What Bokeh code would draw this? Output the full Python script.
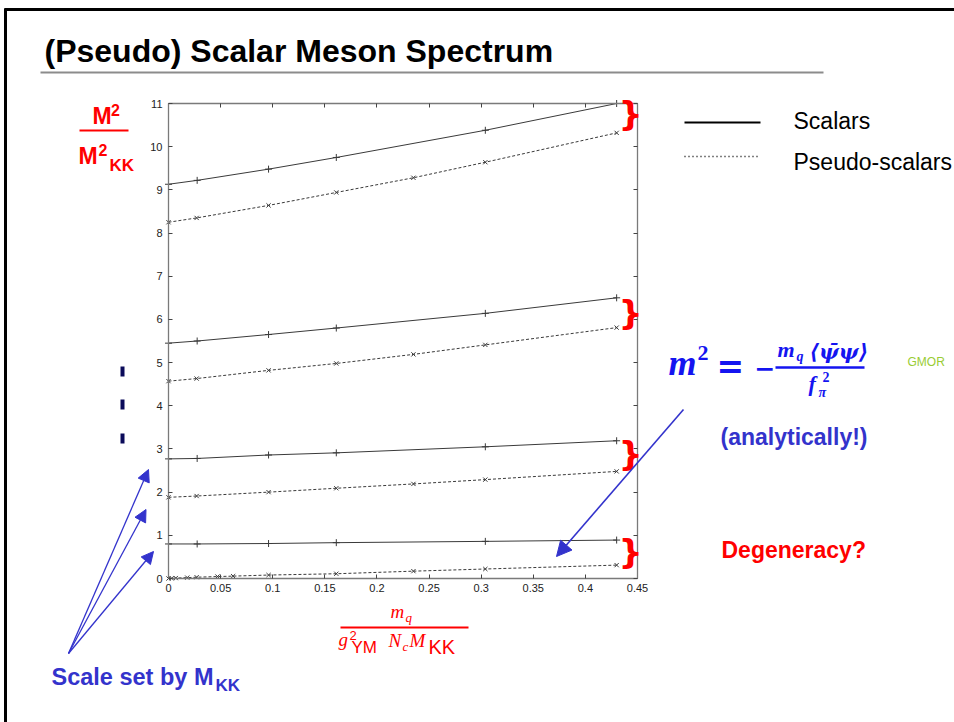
from bokeh.plotting import figure
from bokeh.models import Range1d, LinearAxis, FixedTicker, Label, Arrow, NormalHead, PolyAnnotation
from bokeh.embed import file_html
from bokeh.resources import INLINE

# ---------------- data ----------------
x_main = [0.0, 0.0275, 0.096, 0.161, 0.304, 0.43]
x_pseudo = [0.0, 0.027, 0.096, 0.161, 0.235, 0.304, 0.43]
x_pion = [0.0, 0.003, 0.007, 0.018, 0.027, 0.047, 0.062, 0.096, 0.161, 0.235, 0.304, 0.43]

scalar_1 = [0.80, 0.80, 0.81, 0.83, 0.86, 0.89]
scalar_2 = [2.77, 2.78, 2.86, 2.91, 3.05, 3.19]
scalar_3 = [5.45, 5.50, 5.65, 5.80, 6.14, 6.50]
scalar_4 = [9.13, 9.22, 9.48, 9.75, 10.38, 11.0]

pseudo_1 = [0.0, 0.005, 0.01, 0.02, 0.03, 0.045, 0.055, 0.08, 0.11, 0.17, 0.22, 0.31]
pseudo_2 = [1.88, 1.91, 2.00, 2.09, 2.19, 2.29, 2.48]
pseudo_3 = [4.57, 4.63, 4.82, 4.98, 5.19, 5.41, 5.81]
pseudo_4 = [8.25, 8.35, 8.64, 8.94, 9.28, 9.64, 10.32]

x_ticks = [0.0, 0.05, 0.1, 0.15, 0.2, 0.25, 0.3, 0.35, 0.4, 0.45]
x_tick_labels = ["0", "0.05", "0.1", "0.15", "0.2", "0.25", "0.3", "0.35", "0.4", "0.45"]
y_ticks = [0, 1, 2, 3, 4, 5, 6, 7, 8, 9, 10, 11]
y_tick_labels = [str(v) for v in y_ticks]
X_MIN, X_MAX = 0.0, 0.45
Y_MIN, Y_MAX = 0, 11

# ---------------- layout: the frame fills the whole slide ----------------
W, H = 954, 722
BOX_L, BOX_R, BOX_T, BOX_B = 168, 637, 103, 578   # page pixels of the plot box
kx = (BOX_R - BOX_L) / (X_MAX - X_MIN)
ky = (BOX_B - BOX_T) / (Y_MAX - Y_MIN)
x_range = Range1d(X_MIN - BOX_L / kx, X_MAX + (W - BOX_R) / kx)
y_range = Range1d(Y_MIN - (H - BOX_B) / ky, Y_MAX + BOX_T / ky)

p = figure(width=W, height=H, min_border=0,
           x_range=x_range, y_range=y_range,
           output_backend="svg", toolbar_location=None,
           background_fill_color="white", border_fill_color="white",
           outline_line_color=None, x_axis_location=None, y_axis_location=None)
p.xgrid.visible = False
p.ygrid.visible = False


def make_axis(ticks, labels, show, loc, bounds):
    ax = LinearAxis(fixed_location=loc, bounds=bounds)
    ax.ticker = FixedTicker(ticks=ticks)
    ax.axis_line_color = "#7a7a7a"
    ax.axis_line_width = 1.3
    ax.major_tick_line_color = "#444444"
    ax.major_tick_in = 4
    ax.major_tick_out = 0
    ax.minor_tick_line_color = None
    ax.major_label_text_font = "Liberation Sans"
    ax.major_label_text_font_size = "11px"
    ax.major_label_text_color = "#222222"
    if show:
        ax.major_label_overrides = {t: l for t, l in zip(ticks, labels)}
    else:
        ax.major_label_overrides = {t: "" for t in ticks}
    return ax


ax_b = make_axis(x_ticks, x_tick_labels, True, Y_MIN, (X_MIN, X_MAX)); ax_b.major_label_standoff = 5
ax_t = make_axis(x_ticks, x_tick_labels, False, Y_MAX, (X_MIN, X_MAX))
ax_l = make_axis(y_ticks, y_tick_labels, True, X_MIN, (Y_MIN, Y_MAX)); ax_l.major_label_standoff = 6
ax_r = make_axis(y_ticks, y_tick_labels, False, X_MAX, (Y_MIN, Y_MAX))
p.add_layout(ax_b, "below")
p.add_layout(ax_t, "above")
p.add_layout(ax_l, "left")
p.add_layout(ax_r, "right")

LINE_C = "#3a3a3a"
for ys in [scalar_1, scalar_2, scalar_3, scalar_4]:
    p.line(x_main, ys, line_color=LINE_C, line_width=1)
    p.scatter(x_main, ys, marker="cross", size=7, line_color=LINE_C, line_width=1)
for xs, ys in [(x_pion, pseudo_1), (x_pseudo, pseudo_2), (x_pseudo, pseudo_3), (x_pseudo, pseudo_4)]:
    p.line(xs, ys, line_color=LINE_C, line_width=1, line_dash="3 2")
    p.scatter(xs, ys, marker="x", size=6, line_color=LINE_C, line_width=1)


# ---------------- slide decorations (page pixel positions) ----------------
def lab(text, px, base, size, color, font="Liberation Sans", style="normal",
        align="left", center=None):
    # base = alphabetic baseline in page pixels; drawn with a middle baseline
    cy = center if center is not None else base - 0.35 * size
    p.add_layout(Label(x=px, y=H - cy, x_units="screen", y_units="screen",
                       text=text, text_font=font, text_font_size=f"{size}px",
                       text_font_style=style, text_color=color,
                       text_align=align, text_baseline="middle"))


def seg(x0, y0, x1, y1, color, width, dash="solid", join="miter"):
    p.add_layout(PolyAnnotation(xs=[x0, x1], ys=[H - y0, H - y1],
                                xs_units="screen", ys_units="screen",
                                fill_alpha=0, line_alpha=1.0, line_color=color,
                                line_width=width, line_dash=dash, line_join=join))


def arrow(x0, y0, x1, y1, color, width, size):
    p.add_layout(Arrow(x_start=x0, y_start=H - y0, x_end=x1, y_end=H - y1,
                       start_units="screen", end_units="screen",
                       end=NormalHead(size=size, fill_color=color, line_color=color, line_width=1),
                       line_color=color, line_width=width))


RED = "#ff0000"
BLUE = "#3333cc"
FB = "#1414f0"
SERIF = "Liberation Serif"

# slide frame + title
seg(4, 9, 954, 9, "black", 3)
seg(5, 8, 5, 722, "black", 3)
lab("(Pseudo) Scalar Meson Spectrum", 44, 61.5, 32, "black", style="bold")
seg(40, 72, 823, 72, "#8c8c8c", 2)

# legend
seg(684, 122, 760, 122, "black", 2.2)
seg(684, 156, 760, 156, "black", 1.5, dash="1 3")
lab("Scalars", 793, 129, 23, "black")
lab("Pseudo-scalars", 793, 170, 23, "black")

# y label
lab("M", 92, 123.5, 23, RED, style="bold")
lab("2", 110.5, 115, 16, RED, style="bold")
seg(79, 130, 128, 130, RED, 2)
lab("M", 78, 164, 23, RED, style="bold")
lab("2", 98, 155, 16, RED, style="bold")
lab("KK", 109, 171, 17, RED, style="bold")

# x label
lab("m", 390, 618, 19, RED, font=SERIF, style="italic")
lab("q", 405, 622, 13, RED, font=SERIF, style="italic")
seg(340, 627, 468, 627, RED, 2)
lab("g", 338, 646, 19, RED, font=SERIF, style="italic")
lab("2", 349, 640, 13, RED)
lab("YM", 351, 653, 17, RED)
lab("N", 388, 647, 19, RED, font=SERIF, style="italic")
lab("c", 402, 651, 13, RED, font=SERIF, style="italic")
lab("M", 409, 647, 19, RED, font=SERIF, style="italic")
lab("KK", 428, 653, 20, RED)

# braces
for cy in [113.5, 312, 453, 551]:
    lab("}", 630, None, 34, RED, font="DejaVu Sans", style="bold", align="center", center=cy)

# vertical dots
for cy in [371, 404, 438]:
    seg(122, cy - 5, 122, cy + 5, "#0b0b5a", 4, join="round")

# arrows
for ex, ey in [(148, 469), (145.5, 509), (153, 551)]:
    arrow(68, 653, ex, ey, BLUE, 1.3, 12)
arrow(683, 409, 556, 556, BLUE, 1.6, 15)

lab("Scale set by M", 51, 685, 23.5, BLUE, style="bold")
lab("KK", 215, 691, 17, BLUE, style="bold")

# GMOR formula
lab("m", 668, 375, 36, FB, font=SERIF, style="bold italic")
lab("2", 697, 360, 22, FB, font=SERIF, style="bold")
lab("=", 716, 378, 33, FB, font="DejaVu Sans", style="bold")
lab("−", 754, 376, 25, FB, font="DejaVu Sans", style="bold")
seg(775, 367, 864, 367, FB, 2.5)
lab("m", 777, 357, 22, FB, font=SERIF, style="bold italic")
lab("q", 796, 361, 14, FB, font=SERIF, style="bold italic")
lab("⟨ψ̄ψ⟩", 809, 358, 21, FB, font="DejaVu Serif", style="bold italic")
lab("f", 808, 391, 22, FB, font=SERIF, style="bold italic")
lab("π", 818, 397, 14, FB, font=SERIF, style="bold italic")
lab("2", 822, 381, 14, FB, font=SERIF, style="bold")
lab("GMOR", 907, 366, 12, "#99cc33")

lab("(analytically!)", 720, 445, 23, BLUE, style="bold")
lab("Degeneracy?", 721, 558, 23, RED, style="bold")

open("out.html", "w").write(file_html(p, INLINE))
